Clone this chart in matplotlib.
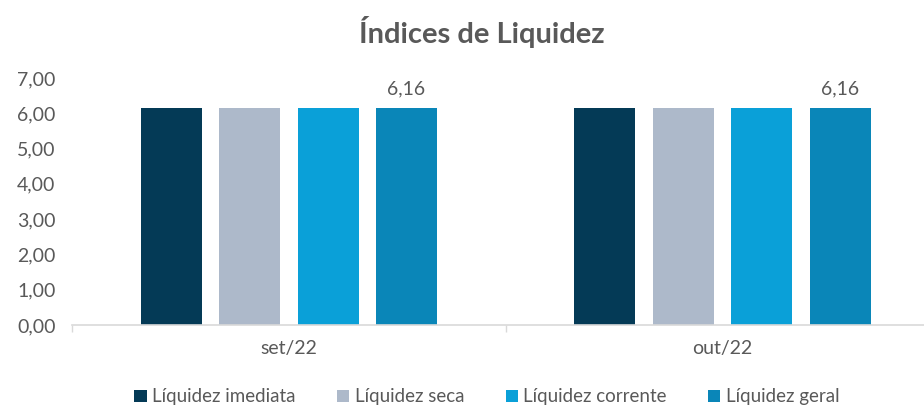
import matplotlib.pyplot as plt
import numpy as np
from matplotlib.patches import Patch

plt.rcParams['font.family'] = ['Lato', 'DejaVu Sans']

categorias = ['set/22', 'out/22']
series = ['Líquidez imediata', 'Líquidez seca', 'Líquidez corrente', 'Líquidez geral']
valores = {
    'Líquidez imediata': [6.16, 6.16],
    'Líquidez seca': [6.16, 6.16],
    'Líquidez corrente': [6.16, 6.16],
    'Líquidez geral': [6.16, 6.16],
}
cores = ['#043a56', '#adb9ca', '#0aa0d8', '#0a86b8']
texto = '#595959'

fig = plt.figure(figsize=(9.24, 4.08), dpi=100)
# eixo passa um pouco da borda direita, como no original
ax = fig.add_axes([0.078, 0.2034, 0.9383, 0.6055])

x = np.arange(len(categorias))
largura = 0.1407
passo = 0.181
for i, s in enumerate(series):
    pos = x + (i - 1.5) * passo
    ax.bar(pos, valores[s], width=largura, color=cores[i], zorder=2)
    if s == 'Líquidez geral':
        for px, v in zip(pos, valores[s]):
            ax.text(px, v + 0.3, f'{v:.2f}'.replace('.', ','), ha='center', va='bottom',
                    fontsize=14, color=texto)

ax.set_xlim(-0.5, len(categorias) - 0.5)
ax.set_ylim(0, 7)
ax.set_yticks(np.arange(0, 8, 1))
ax.set_yticklabels([f'{t:.2f}'.replace('.', ',') for t in range(8)], fontsize=14, color=texto)
ax.tick_params(axis='y', length=0, pad=12)

ax.set_xticks(x)
ax.set_xticklabels(categorias, fontsize=14, color=texto)
ax.tick_params(axis='x', length=0, pad=11)
ax.set_xticks([-0.5, 0.5, 1.5], minor=True)
ax.tick_params(axis='x', which='minor', length=5, color='#d9d9d9', width=1)

for lado in ['top', 'right', 'left']:
    ax.spines[lado].set_visible(False)
ax.spines['bottom'].set_color('#d9d9d9')
ax.spines['bottom'].set_linewidth(1.2)

fig.text(0.521, 0.922, 'Índices de Liquidez', ha='center', va='center',
         fontsize=21, fontweight='bold', color=texto)

handles = [Patch(facecolor=c, label=s) for c, s in zip(cores, series)]
fig.legend(handles=handles, loc='center', bbox_to_anchor=(0.527, 0.027), ncol=4,
           frameon=False, fontsize=13.5, handlelength=0.65, handleheight=0.65,
           handletextpad=0.3, columnspacing=2.2, labelcolor=texto,
           borderpad=0, borderaxespad=0)

fig.savefig('out.png', dpi=100)
